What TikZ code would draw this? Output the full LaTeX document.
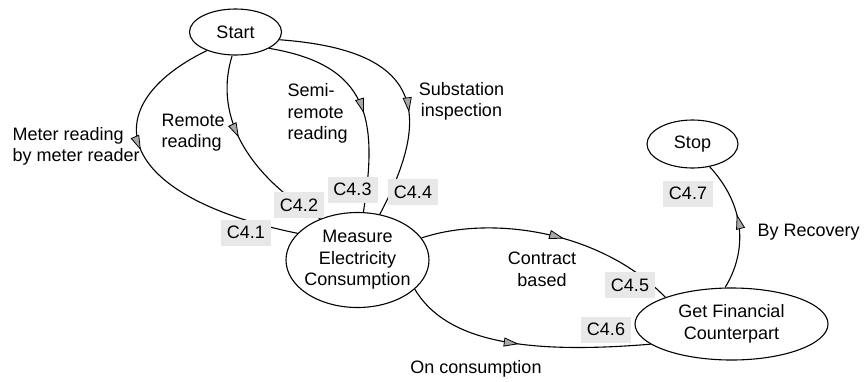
\documentclass[tikz,border=0pt]{standalone}
\usepackage{fontspec}
\setmainfont{Liberation Sans}
\usetikzlibrary{shapes.geometric,arrows.meta,decorations.markings}
\definecolor{taggray}{RGB}{232,232,232}
\definecolor{tipgray}{RGB}{168,168,168}

\begin{document}
\begin{tikzpicture}[x=1pt, y=-1pt, line width=1.1pt,
  font=\fontsize{18}{21.5}\selectfont,
  state/.style={draw, ellipse, inner sep=0pt, align=center},
  tag/.style={fill=taggray, minimum width=50pt, minimum height=26pt, inner sep=0pt},
  note/.style={inner sep=0pt, align=left, anchor=west},
  flow/.style={postaction={decorate}, decoration={markings,
    mark=at position #1 with {\arrow{Triangle[length=15pt, width=9pt, fill=tipgray, line width=0.8pt]}}}}]
\useasboundingbox (0,0) rectangle (865,381);

\node[state, minimum width=92pt, minimum height=46pt] (start) at (235.5,32) {Start};
\node[state, minimum width=143pt, minimum height=95pt, inner xsep=-3pt] (measure) at (357.5,260) {Measure\\Electricity\\Consumption};
\node[state, minimum width=193pt, minimum height=72pt] (getfin) at (731.5,324) {Get Financial\\Counterpart};
\node[state, minimum width=91pt, minimum height=48pt] (stop) at (692.5,144) {Stop};

\draw[flow=0.42] (start.213) .. controls (95,105) and (110,195) .. (measure.156);
\draw[flow=0.42] (start.262) .. controls (215,110) and (240,170) .. (measure.132);
\draw[flow=0.55] (start.334) .. controls (370,65) and (378,120) .. (measure.83);
\draw[flow=0.6] (start.350) .. controls (420,50) and (435,110) .. (measure.64);
\draw[flow=0.55] (measure.19) .. controls (490,215) and (600,230) .. (getfin.158);
\draw[flow=0.48] (measure.333) .. controls (445,340) and (520,355) .. (getfin.194);
\draw[flow=0.58] (getfin.100) .. controls (748,250) and (745,205) .. (stop.307);

\node[note] (meter) at (12,146.5) {Meter reading\\by meter reader};
\node[note] (remote) at (161,132.5) {Remote\\reading};
\node[note] (semi) at (287,113.5) {Semi-\\remote\\reading};
\node[inner sep=0pt, align=center] (subst) at (461.5,101.5) {Substation\\inspection};
\node[inner sep=0pt, align=center] (contract) at (542,269.5) {Contract\\based};
\node[inner sep=0pt] (oncons) at (476,369) {On consumption};
\node[note] (recov) at (757,232.5) {By Recovery};

\node[tag] (c41) at (246,232.5) {C4.1};
\node[tag] (c42) at (299,205) {C4.2};
\node[tag] (c43) at (352.5,189.5) {C4.3};
\node[tag] (c44) at (413,192) {C4.4};
\node[tag] (c45) at (630,285) {C4.5};
\node[tag] (c46) at (606,329.5) {C4.6};
\node[tag] (c47) at (688,193.5) {C4.7};
\end{tikzpicture}
\end{document}
